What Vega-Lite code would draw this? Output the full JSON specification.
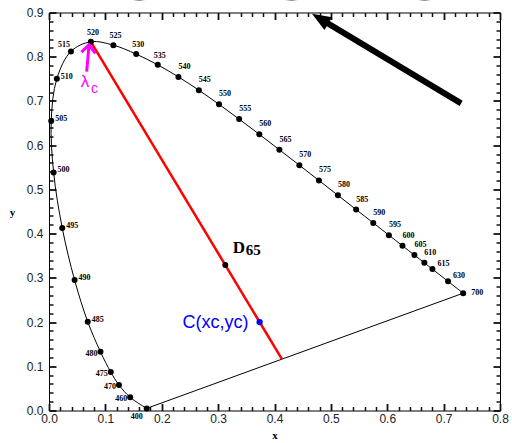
{
  "$schema": "https://vega.github.io/schema/vega-lite/v6.json",
  "width": 451,
  "height": 398,
  "autosize": {"type": "none"},
  "padding": {"left": 49, "top": 12.5, "right": 12, "bottom": 32.5},
  "background": "white",
  "config": {
    "view": {"stroke": "black", "strokeWidth": 1},
    "axis": {
      "labelFont": "Liberation Sans",
      "labelFontSize": 12,
      "labelColor": "#222",
      "titleFont": "Liberation Serif",
      "titleFontWeight": "bold",
      "titleFontSize": 11,
      "titleColor": "black",
      "grid": false,
      "domain": false,
      "labelOverlap": false,
      "labelBound": false,
      "labelFlush": false
    }
  },
  "datasets": {
    "locus": [
      {"nm": 400, "x": 0.1733, "y": 0.0048},
      {"nm": 460, "x": 0.1440, "y": 0.0297},
      {"nm": 470, "x": 0.1241, "y": 0.0578},
      {"nm": 475, "x": 0.1096, "y": 0.0868},
      {"nm": 480, "x": 0.0913, "y": 0.1327},
      {"nm": 485, "x": 0.0687, "y": 0.2007},
      {"nm": 490, "x": 0.0454, "y": 0.2950},
      {"nm": 495, "x": 0.0235, "y": 0.4127},
      {"nm": 500, "x": 0.0082, "y": 0.5384},
      {"nm": 505, "x": 0.0039, "y": 0.6548},
      {"nm": 510, "x": 0.0139, "y": 0.7502},
      {"nm": 515, "x": 0.0389, "y": 0.8120},
      {"nm": 520, "x": 0.0743, "y": 0.8338},
      {"nm": 525, "x": 0.1142, "y": 0.8262},
      {"nm": 530, "x": 0.1547, "y": 0.8059},
      {"nm": 535, "x": 0.1929, "y": 0.7816},
      {"nm": 540, "x": 0.2296, "y": 0.7543},
      {"nm": 545, "x": 0.2658, "y": 0.7243},
      {"nm": 550, "x": 0.3016, "y": 0.6923},
      {"nm": 555, "x": 0.3373, "y": 0.6589},
      {"nm": 560, "x": 0.3731, "y": 0.6245},
      {"nm": 565, "x": 0.4087, "y": 0.5896},
      {"nm": 570, "x": 0.4441, "y": 0.5547},
      {"nm": 575, "x": 0.4788, "y": 0.5202},
      {"nm": 580, "x": 0.5125, "y": 0.4866},
      {"nm": 585, "x": 0.5448, "y": 0.4544},
      {"nm": 590, "x": 0.5752, "y": 0.4242},
      {"nm": 595, "x": 0.6029, "y": 0.3965},
      {"nm": 600, "x": 0.6270, "y": 0.3725},
      {"nm": 605, "x": 0.6482, "y": 0.3514},
      {"nm": 610, "x": 0.6658, "y": 0.3340},
      {"nm": 615, "x": 0.6801, "y": 0.3197},
      {"nm": 630, "x": 0.7079, "y": 0.2920},
      {"nm": 700, "x": 0.7347, "y": 0.2653}
    ],
    "points": [
      {"name": "D65", "x": 0.3127, "y": 0.3290},
      {"name": "C", "x": 0.3736, "y": 0.2000}
    ],
    "chord": [
      {"x": 0.0743, "y": 0.8338, "x2": 0.4132, "y2": 0.1161}
    ],
    "swatches": [
      {"swatch": "gray", "x": 0.160, "y": 1.008},
      {"swatch": "green", "x": 0.430, "y": 1.008},
      {"swatch": "magenta", "x": 0.666, "y": 1.008}
    ],
    "arrowTip": [{"x": 0.4665, "y": 0.897}],
    "pointerTip": [{"x": 0.0710, "y": 0.8269}]
  },
  "encoding": {
    "x": {"field": "x", "type": "quantitative", "scale": {"domain": [0, 0.8], "nice": false, "zero": false}, "axis": null},
    "y": {"field": "y", "type": "quantitative", "scale": {"domain": [0, 0.9], "nice": false, "zero": false}, "axis": null}
  },
  "layer": [
    {
      "data": {"name": "swatches"},
      "mark": {"type": "point", "shape": "circle", "filled": true, "size": 5000, "stroke": "#333333", "strokeWidth": 1, "opacity": 1, "clip": false},
      "encoding": {
        "fill": {
          "field": "swatch", "type": "nominal",
          "scale": {"domain": ["gray", "green", "magenta"], "range": ["#a6a6a6", "#00a000", "#a000a8"]},
          "legend": null
        },
        "x": {
          "field": "x", "type": "quantitative",
          "scale": {"domain": [0, 0.8], "nice": false, "zero": false},
          "axis": {
            "orient": "bottom", "title": "x", "titlePadding": 5,
            "values": [0, 0.1, 0.2, 0.3, 0.4, 0.5, 0.6, 0.7, 0.8],
            "format": ".1f",
            "ticks": true, "tickColor": "#111111", "tickWidth": 1.8, "tickSize": -7,
            "labelPadding": 10
          }
        },
        "y": {
          "field": "y", "type": "quantitative",
          "scale": {"domain": [0, 0.9], "nice": false, "zero": false},
          "axis": {
            "orient": "left", "title": "y", "titleAngle": 0, "titleX": -37, "titleY": 200,
            "titleAlign": "center", "titleBaseline": "middle",
            "values": [0, 0.1, 0.2, 0.3, 0.4, 0.5, 0.6, 0.7, 0.8, 0.9],
            "format": ".1f",
            "ticks": true, "tickColor": "#111111", "tickWidth": 1.8, "tickSize": -7,
            "labelPadding": 13
          }
        }
      }
    },
    {
      "data": {"name": "locus"},
      "mark": {"type": "line", "interpolate": "catmull-rom", "color": "black", "strokeWidth": 1},
      "encoding": {
        "order": {"field": "nm", "type": "quantitative"},
        "x": {
          "field": "x", "type": "quantitative",
          "scale": {"domain": [0, 0.8], "nice": false, "zero": false},
          "axis": {"orient": "bottom", "title": null, "labels": false, "ticks": true, "tickColor": "#111111", "tickWidth": 1.5, "tickSize": -4,
            "values": [0.02,0.04,0.06,0.08,0.12,0.14,0.16,0.18,0.22,0.24,0.26,0.28,0.32,0.34,0.36,0.38,0.42,0.44,0.46,0.48,0.52,0.54,0.56,0.58,0.62,0.64,0.66,0.68,0.72,0.74,0.76,0.78]}
        },
        "y": {
          "field": "y", "type": "quantitative",
          "scale": {"domain": [0, 0.9], "nice": false, "zero": false},
          "axis": {"orient": "left", "title": null, "labels": false, "ticks": true, "tickColor": "#111111", "tickWidth": 1.5, "tickSize": -4,
            "values": [0.02,0.04,0.06,0.08,0.12,0.14,0.16,0.18,0.22,0.24,0.26,0.28,0.32,0.34,0.36,0.38,0.42,0.44,0.46,0.48,0.52,0.54,0.56,0.58,0.62,0.64,0.66,0.68,0.72,0.74,0.76,0.78,0.82,0.84,0.86,0.88]}
        }
      }
    },
    {
      "data": {"name": "locus"},
      "transform": [{"filter": "datum.nm == 400 || datum.nm == 700"}],
      "mark": {"type": "line", "color": "black", "strokeWidth": 1},
      "encoding": {
        "order": {"field": "nm", "type": "quantitative"},
        "x": {
          "field": "x", "type": "quantitative",
          "scale": {"domain": [0, 0.8], "nice": false, "zero": false},
          "axis": {"orient": "top", "title": null, "labels": false, "ticks": true, "tickColor": "#111111", "tickWidth": 1.8, "tickSize": -7,
            "values": [0, 0.1, 0.2, 0.3, 0.4, 0.5, 0.6, 0.7, 0.8]}
        },
        "y": {
          "field": "y", "type": "quantitative",
          "scale": {"domain": [0, 0.9], "nice": false, "zero": false},
          "axis": {"orient": "right", "title": null, "labels": false, "ticks": true, "tickColor": "#111111", "tickWidth": 1.8, "tickSize": -7,
            "values": [0, 0.1, 0.2, 0.3, 0.4, 0.5, 0.6, 0.7, 0.8, 0.9]}
        }
      }
    },
    {
      "data": {"name": "chord"},
      "mark": {"type": "rule", "color": "#ff0000", "strokeWidth": 2.5},
      "encoding": {
        "x": {
          "field": "x", "type": "quantitative",
          "scale": {"domain": [0, 0.8], "nice": false, "zero": false},
          "axis": {"orient": "top", "title": null, "labels": false, "ticks": true, "tickColor": "#111111", "tickWidth": 1.5, "tickSize": -4,
            "values": [0.02,0.04,0.06,0.08,0.12,0.14,0.16,0.18,0.22,0.24,0.26,0.28,0.32,0.34,0.36,0.38,0.42,0.44,0.46,0.48,0.52,0.54,0.56,0.58,0.62,0.64,0.66,0.68,0.72,0.74,0.76,0.78]}
        },
        "y": {
          "field": "y", "type": "quantitative",
          "scale": {"domain": [0, 0.9], "nice": false, "zero": false},
          "axis": {"orient": "right", "title": null, "labels": false, "ticks": true, "tickColor": "#111111", "tickWidth": 1.5, "tickSize": -4,
            "values": [0.02,0.04,0.06,0.08,0.12,0.14,0.16,0.18,0.22,0.24,0.26,0.28,0.32,0.34,0.36,0.38,0.42,0.44,0.46,0.48,0.52,0.54,0.56,0.58,0.62,0.64,0.66,0.68,0.72,0.74,0.76,0.78,0.82,0.84,0.86,0.88]}
        },
        "x2": {"field": "x2"},
        "y2": {"field": "y2"}
      }
    },
    {
      "data": {"name": "locus"},
      "mark": {"type": "point", "filled": true, "color": "black", "size": 36, "opacity": 1},
      "encoding": {}
    },
    {
      "data": {"name": "locus"},
      "transform": [{"filter": {"field": "nm", "oneOf": [520, 525, 530, 535]}}],
      "mark": {"type": "text", "color": "black", "font": "Liberation Serif", "fontWeight": "bold", "fontSize": 8, "align": "center", "baseline": "middle", "dx": 2, "dy": -9},
      "encoding": {"text": {"field": "nm", "type": "nominal"}}
    },
    {
      "data": {"name": "locus"},
      "transform": [{"filter": "datum.nm == 515"}],
      "mark": {"type": "text", "color": "black", "font": "Liberation Serif", "fontWeight": "bold", "fontSize": 8, "align": "center", "baseline": "middle", "dx": -7, "dy": -6},
      "encoding": {"text": {"field": "nm", "type": "nominal"}}
    },
    {
      "data": {"name": "locus"},
      "transform": [{"filter": "datum.nm >= 540 && datum.nm <= 610"}],
      "mark": {"type": "text", "color": "black", "font": "Liberation Serif", "fontWeight": "bold", "fontSize": 8, "align": "center", "baseline": "middle", "dx": 6, "dy": -10},
      "encoding": {"text": {"field": "nm", "type": "nominal"}}
    },
    {
      "data": {"name": "locus"},
      "transform": [{"filter": "datum.nm == 615 || datum.nm == 630"}],
      "mark": {"type": "text", "color": "black", "font": "Liberation Serif", "fontWeight": "bold", "fontSize": 8, "align": "center", "baseline": "middle", "dx": 11, "dy": -5},
      "encoding": {"text": {"field": "nm", "type": "nominal"}}
    },
    {
      "data": {"name": "locus"},
      "transform": [{"filter": "datum.nm == 700"}],
      "mark": {"type": "text", "color": "black", "font": "Liberation Serif", "fontWeight": "bold", "fontSize": 8, "align": "left", "baseline": "middle", "dx": 8, "dy": 0},
      "encoding": {"text": {"field": "nm", "type": "nominal"}}
    },
    {
      "data": {"name": "locus"},
      "transform": [{"filter": "datum.nm >= 485 && datum.nm <= 510"}],
      "mark": {"type": "text", "color": "black", "font": "Liberation Serif", "fontWeight": "bold", "fontSize": 8, "align": "left", "baseline": "middle", "dx": 4, "dy": -2},
      "encoding": {"text": {"field": "nm", "type": "nominal"}}
    },
    {
      "data": {"name": "locus"},
      "transform": [{"filter": "datum.nm >= 460 && datum.nm <= 480"}],
      "mark": {"type": "text", "color": "black", "font": "Liberation Serif", "fontWeight": "bold", "fontSize": 8, "align": "right", "baseline": "middle", "dx": -3, "dy": 2},
      "encoding": {"text": {"field": "nm", "type": "nominal"}}
    },
    {
      "data": {"name": "locus"},
      "transform": [{"filter": "datum.nm == 400"}],
      "mark": {"type": "text", "color": "black", "font": "Liberation Serif", "fontWeight": "bold", "fontSize": 8, "align": "center", "baseline": "middle", "dx": -10, "dy": 9},
      "encoding": {"text": {"field": "nm", "type": "nominal"}}
    },
    {
      "data": {"name": "points"},
      "transform": [{"filter": "datum.name == 'D65'"}],
      "mark": {"type": "point", "filled": true, "color": "black", "size": 36, "opacity": 1},
      "encoding": {}
    },
    {
      "data": {"name": "points"},
      "transform": [{"filter": "datum.name == 'C'"}],
      "mark": {"type": "point", "filled": true, "color": "#0000ff", "size": 40, "opacity": 1},
      "encoding": {}
    },
    {
      "data": {"name": "points"},
      "transform": [{"filter": "datum.name == 'D65'"}],
      "mark": {"type": "text", "text": "D", "color": "black", "font": "Liberation Serif", "fontWeight": "bold", "fontSize": 17, "align": "left", "baseline": "alphabetic", "dx": 7.5, "dy": -12},
      "encoding": {}
    },
    {
      "data": {"name": "points"},
      "transform": [{"filter": "datum.name == 'D65'"}],
      "mark": {"type": "text", "text": "65", "color": "black", "font": "Liberation Serif", "fontWeight": "bold", "fontSize": 15, "align": "left", "baseline": "alphabetic", "dx": 20.5, "dy": -10.5},
      "encoding": {}
    },
    {
      "data": {"name": "points"},
      "transform": [{"filter": "datum.name == 'C'"}],
      "mark": {"type": "text", "text": "C(xc,yc)", "font": "Liberation Sans", "fontSize": 18, "color": "#0000ff", "align": "right", "baseline": "middle", "dx": -11, "dy": 1},
      "encoding": {}
    },
    {
      "data": {"name": "arrowTip"},
      "mark": {
        "type": "point",
        "shape": "M0,0 L0.75,1.9 L0.3,1.9 L0.3,17.4 L-0.3,17.4 L-0.3,1.9 L-0.75,1.9 Z",
        "size": 400,
        "angle": -59,
        "filled": true,
        "color": "black",
        "opacity": 1
      },
      "encoding": {}
    },
    {
      "data": {"name": "pointerTip"},
      "mark": {
        "type": "point",
        "shape": "M0,0 L0,2.7 M-0.7,0.8 L0,0 L0.7,0.8",
        "size": 400,
        "angle": 5,
        "filled": false,
        "stroke": "#ff00ff",
        "strokeWidth": 3,
        "opacity": 1
      },
      "encoding": {}
    },
    {
      "data": {"name": "pointerTip"},
      "mark": {"type": "text", "text": "λ", "font": "Liberation Sans", "fontSize": 17, "color": "#ff00ff", "align": "center", "baseline": "middle", "dx": -4, "dy": 37},
      "encoding": {}
    },
    {
      "data": {"name": "pointerTip"},
      "mark": {"type": "text", "text": "c", "font": "Liberation Sans", "fontSize": 14, "color": "#ff00ff", "align": "center", "baseline": "middle", "dx": 5.5, "dy": 44},
      "encoding": {}
    }
  ],
  "resolve": {"axis": {"x": "independent", "y": "independent"}}
}
